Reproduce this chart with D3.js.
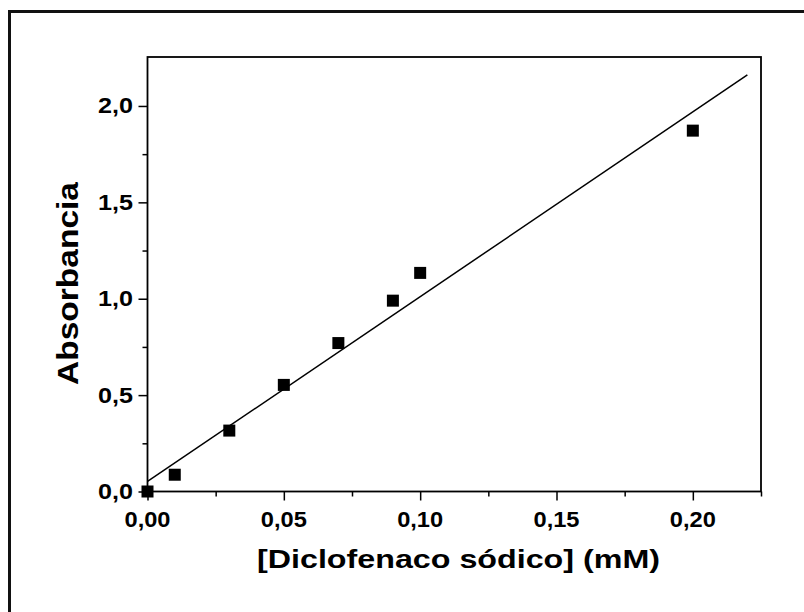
<!DOCTYPE html>
<html>
<head>
<meta charset="utf-8">
<script src="https://cdn.jsdelivr.net/npm/d3@7"></script>
<style>
    body { margin: 0; background: #fff; }
    svg text { font-family: "Liberation Sans", Arial, sans-serif; font-weight: bold; fill: #000; }
</style>
</head>
<body>
<div id="chart"></div>
<script>
// concentration (mM) and measured absorbance
var concentracion = [0, 0.01, 0.03, 0.05, 0.07, 0.09, 0.10, 0.20];
var absorbancia = [0, 0.087, 0.316, 0.553, 0.77, 0.99, 1.134, 1.872];

// fitted straight line, read at its two ends
var ajusteX = [0, 0.22];
var ajusteY = [0.052, 2.161];

var xTicks = [0, 0.05, 0.10, 0.15, 0.20];
var xTickLabels = ["0,00", "0,05", "0,10", "0,15", "0,20"];
var yTicks = [0, 0.5, 1.0, 1.5, 2.0];
var yTickLabels = ["0,0", "0,5", "1,0", "1,5", "2,0"];

function init(){
    var w = 804;
    var h = 612;

    var svg = d3.select('#chart')
                .append('svg')
                .attr('width', w)
                .attr('height', h);

    // outer frame, right and bottom sides are cut off in the picture
    svg.append('rect')
        .attr('x', 9.5)
        .attr('y', 11.5)
        .attr('width', 820)
        .attr('height', 620)
        .attr('fill', 'none')
        .attr('stroke', '#111')
        .attr('stroke-width', 3);

    var left = 147.5, right = 761, top = 57, bottom = 491.5;

    var xScale = d3.scaleLinear()
                    .domain([0, 0.225])
                    .range([left, right]);

    var yScale = d3.scaleLinear()
                    .domain([0, 2.254])
                    .range([bottom, top]);

    // major ticks only, labels drawn by hand below so they can be sized
    var xAxis = d3.axisBottom(xScale)
                    .tickValues(xTicks)
                    .tickSize(9)
                    .tickFormat('');

    var xMinor = d3.axisBottom(xScale)
                    .tickValues([0.025, 0.075, 0.125, 0.175, 0.225])
                    .tickSize(5)
                    .tickFormat('');

    var yAxis = d3.axisLeft(yScale)
                    .tickValues(yTicks)
                    .tickSize(9)
                    .tickFormat('');

    var yMinor = d3.axisLeft(yScale)
                    .tickValues([0.25, 0.75, 1.25, 1.75])
                    .tickSize(5)
                    .tickFormat('');

    svg.append('g').attr('transform', 'translate(0,' + bottom + ')').call(xAxis);
    svg.append('g').attr('transform', 'translate(0,' + bottom + ')').call(xMinor);
    svg.append('g').attr('transform', 'translate(' + left + ',0)').call(yAxis);
    svg.append('g').attr('transform', 'translate(' + left + ',0)').call(yMinor);

    svg.selectAll('.domain').remove();
    svg.selectAll('.tick line').attr('stroke', '#000').attr('stroke-width', 1.5);

    // tick labels
    svg.selectAll('text.xlab')
        .data(xTicks)
        .enter()
        .append('text')
        .attr('class', 'xlab')
        .attr('x', function(d){ return xScale(d); })
        .attr('y', 527)
        .attr('text-anchor', 'middle')
        .attr('font-size', 22)
        .attr('textLength', 46)
        .attr('lengthAdjust', 'spacingAndGlyphs')
        .text(function(d, i){ return xTickLabels[i]; });

    svg.selectAll('text.ylab')
        .data(yTicks)
        .enter()
        .append('text')
        .attr('class', 'ylab')
        .attr('x', 133)
        .attr('y', function(d){ return yScale(d) + 7.5; })
        .attr('text-anchor', 'end')
        .attr('font-size', 22)
        .attr('textLength', 35)
        .attr('lengthAdjust', 'spacingAndGlyphs')
        .text(function(d, i){ return yTickLabels[i]; });

    // plot box
    svg.append('rect')
        .attr('x', left)
        .attr('y', top)
        .attr('width', right - left)
        .attr('height', bottom - top)
        .attr('fill', 'none')
        .attr('stroke', '#000')
        .attr('stroke-width', 1.8);

    // fit line
    var line = d3.line()
                .x(function(d){ return xScale(d[0]); })
                .y(function(d){ return yScale(d[1]); });

    svg.append('path')
        .datum(d3.zip(ajusteX, ajusteY))
        .attr('d', line)
        .attr('fill', 'none')
        .attr('stroke', '#000')
        .attr('stroke-width', 1.5);

    // square markers
    var s = 12;
    svg.selectAll('rect.punto')
        .data(d3.zip(concentracion, absorbancia))
        .enter()
        .append('rect')
        .attr('class', 'punto')
        .attr('x', function(d){ return xScale(d[0]) - s / 2; })
        .attr('y', function(d){ return yScale(d[1]) - s / 2; })
        .attr('width', s)
        .attr('height', s)
        .attr('fill', '#000');

    // axis titles
    svg.append('text')
        .attr('x', 458.5)
        .attr('y', 568)
        .attr('text-anchor', 'middle')
        .attr('font-size', 26)
        .attr('textLength', 403)
        .attr('lengthAdjust', 'spacingAndGlyphs')
        .text('[Diclofenaco sódico] (mM)');

    svg.append('text')
        .attr('transform', 'translate(78,283.5) rotate(-90)')
        .attr('text-anchor', 'middle')
        .attr('font-size', 29)
        .attr('textLength', 203)
        .attr('lengthAdjust', 'spacingAndGlyphs')
        .text('Absorbancia');
}

window.onload = init;
</script>
</body>
</html>
